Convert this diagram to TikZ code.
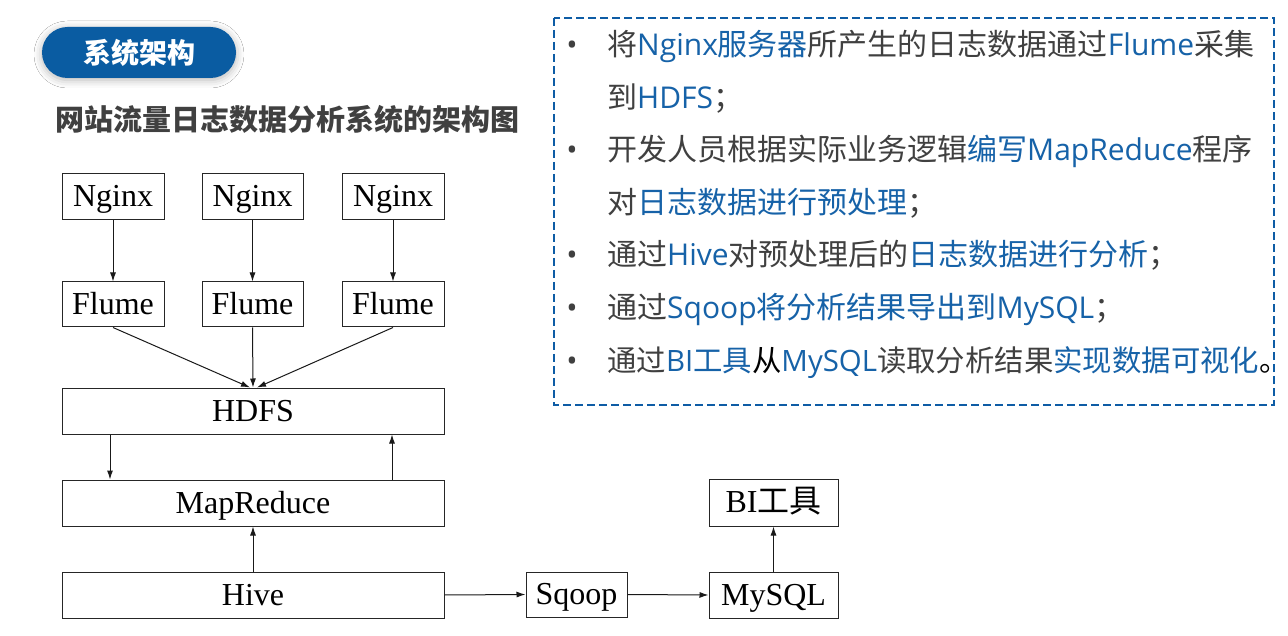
\documentclass[tikz,border=0pt]{standalone}
\usepackage{fontspec}
\setmainfont{Liberation Serif}
\newfontfamily\cjk{Noto Sans CJK SC}
\newfontfamily\lat{Open Sans}
\usetikzlibrary{arrows.meta,shadows.blur}
\definecolor{pillblue}{RGB}{10,92,162}
\definecolor{txtblue}{RGB}{22,98,168}
\definecolor{dashblue}{RGB}{14,92,165}
\definecolor{txtgray}{RGB}{64,64,64}
\newcommand\blu[1]{\textcolor{txtblue}{#1}}
\newcommand\la[1]{{\lat #1}}
\begin{document}
\begin{tikzpicture}[x=1pt,y=-1pt,
  box/.style={draw=black!85,line width=1pt,inner sep=0pt,text height=21pt,text depth=1pt,font=\fontsize{32}{34}\selectfont},
  arr/.style={draw=black!90,line width=1pt,-{Latex[length=9pt,width=6pt]}},
  ln/.style={anchor=base west,inner sep=0pt,text=txtgray,font=\cjk\fontsize{30}{32}\selectfont},
  bul/.style={anchor=base,inner sep=0pt,text=txtgray,font=\lat\fontsize{30}{32}\selectfont}]

\useasboundingbox[fill=white] (0,0) rectangle (1288,636);

% header pill and title
\node[fill=pillblue, rounded corners=25.5pt, minimum width=194pt, minimum height=51pt, inner sep=0pt,
  blur shadow={shadow xshift=0pt,shadow yshift=-2pt,shadow blur radius=8pt,shadow opacity=30},
  text=white, font=\cjk\bfseries\fontsize{28}{30}\selectfont] (pill) at (139,52.5) {系统架构};
\node[anchor=base west, inner sep=0pt, text=txtgray, font=\cjk\bfseries\fontsize{29}{31}\selectfont]
  (title) at (55,131) {网站流量日志数据分析系统的架构图};

% dashed panel
\draw[dashblue, line width=2.5pt, dash pattern=on 8pt off 4pt] (554,18) rectangle (1274,405);

\node[bul] (b1) at (572,56) {•};
\node[ln] (l1) at (607,56) {将\blu{\la{Nginx}服务器}所产生的日志数据通过\blu{\la{Flume}}采集};
\node[ln] (l2) at (607,108.5) {到\blu{\la{HDFS}}；};
\node[bul] (b3) at (572,161) {•};
\node[ln] (l3) at (607,161) {开发人员根据实际业务逻辑\blu{编写\la{MapReduce}}程序};
\node[ln] (l4) at (607,213.5) {对\blu{日志数据进行预处理}；};
\node[bul] (b5) at (572,266) {•};
\node[ln] (l5) at (607,266) {通过\blu{\la{Hive}}对预处理后的\blu{日志数据进行分析}；};
\node[bul] (b6) at (572,318.5) {•};
\node[ln] (l6) at (607,318.5) {通过\blu{\la{Sqoop}将分析结果导出到\la{MySQL}}；};
\node[bul] (b7) at (572,371) {•};
\node[ln, font=\cjk\fontsize{29.4}{32}\selectfont] (l7) at (607,371) {通过\blu{\la{BI}工具}\textcolor{black}{从}\blu{\la{MySQL}}读取分析结果\blu{实现数据可视化}\textcolor{black}{。}};

% diagram
\node[box,minimum width=102pt,minimum height=46pt] (n1) at (113,197) {Nginx};
\node[box,minimum width=101pt,minimum height=46pt] (n2) at (252.5,197) {Nginx};
\node[box,minimum width=102pt,minimum height=46pt] (n3) at (393,197) {Nginx};
\node[box,minimum width=102pt,minimum height=45pt] (f1) at (113,304.5) {Flume};
\node[box,minimum width=101pt,minimum height=45pt] (f2) at (252.5,304.5) {Flume};
\node[box,minimum width=102pt,minimum height=45pt] (f3) at (393,304.5) {Flume};
\node[box,minimum width=382pt,minimum height=46pt] (hdfs) at (253,411) {HDFS};
\node[box,minimum width=382pt,minimum height=46pt] (mr) at (253,503) {MapReduce};
\node[box,minimum width=382pt,minimum height=46pt] (hive) at (253,595) {Hive};
\node[box,minimum width=101pt,minimum height=45pt] (sqoop) at (576.5,594.5) {Sqoop};
\node[box,minimum width=129pt,minimum height=46pt] (mysql) at (773.5,595) {MySQL};
\node[box,minimum width=129pt,minimum height=47pt] (bi) at (773.5,502.5) {BI{\cjk 工具}};

\draw[arr] (n1.south) -- (f1.north);
\draw[arr] (n2.south) -- (f2.north);
\draw[arr] (n3.south) -- (f3.north);
\draw[arr] (f1.south) -- ([xshift=-3pt]hdfs.north);
\draw[arr] (f2.south) -- (hdfs.north);
\draw[arr] (f3.south) -- ([xshift=4pt]hdfs.north);
\draw[arr] ([xshift=-143pt]hdfs.south) -- ([xshift=-143pt]mr.north);
\draw[arr] ([xshift=139pt]mr.north) -- ([xshift=139pt]hdfs.south);
\draw[arr] (hive.north) -- (mr.south);
\draw[arr] (hive.east) -- (sqoop.west);
\draw[arr] (sqoop.east) -- (mysql.west);
\draw[arr] (mysql.north) -- (bi.south);
\end{tikzpicture}
\end{document}
